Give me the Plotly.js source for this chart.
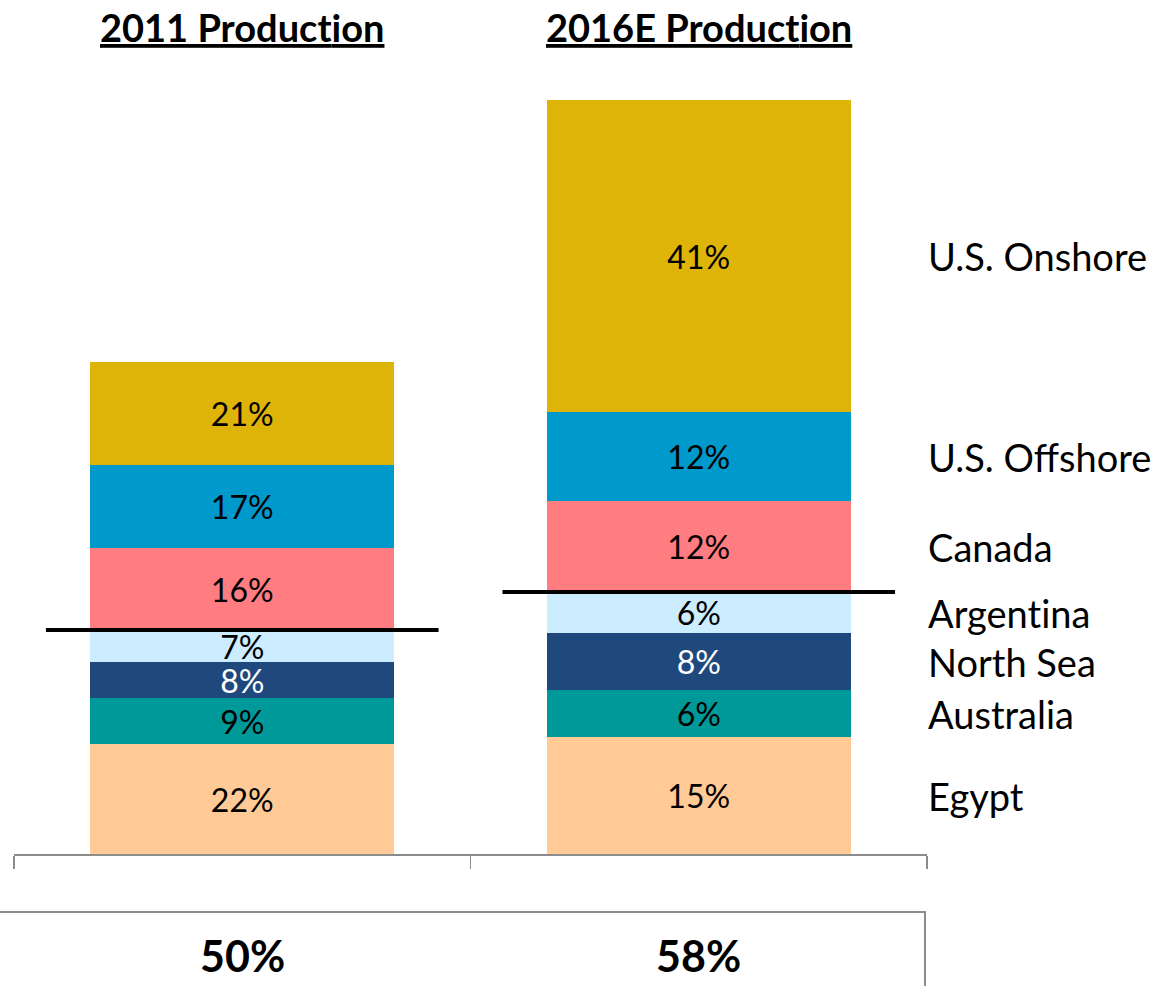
<!DOCTYPE html>
<html>
<head>
<meta charset="utf-8">
<script src="https://cdn.plot.ly/plotly-3.0.1.min.js"></script>
<style>html,body{margin:0;padding:0;background:#fff;}#chart{width:1158px;height:986px;}</style>
</head>
<body>
<div id="chart"></div>
<script>
// Categories (bars)
const periods = ["2011 Production", "2016E Production"];
// Regions, bottom to top
const regions = ["Egypt", "Australia", "North Sea", "Argentina", "Canada", "U.S. Offshore", "U.S. Onshore"];
const egypt      = [110, 117];
const australia  = [46, 47];
const northSea   = [36, 57];
const argentina  = [32, 41];
const canada     = [82, 91];
const usOffshore = [83, 89];
const usOnshore  = [103, 312];
// Share labels
const egyptPct      = ["22%", "15%"];
const australiaPct  = ["9%", "6%"];
const northSeaPct   = ["8%", "8%"];
const argentinaPct  = ["7%", "6%"];
const canadaPct     = ["16%", "12%"];
const usOffshorePct = ["17%", "12%"];
const usOnshorePct  = ["21%", "41%"];
// Table row values
const tableValues = ["50%", "58%"];

const colors = ["#FFCA96", "#009999", "#1F497D", "#CCECFF", "#FF7C80", "#0099CC", "#DFB408"];
const textColors = ["#000", "#000", "#fff", "#000", "#000", "#000", "#000"];
const series = [egypt, australia, northSea, argentina, canada, usOffshore, usOnshore];
const labels = [egyptPct, australiaPct, northSeaPct, argentinaPct, canadaPct, usOffshorePct, usOnshorePct];

const FONT = "Lato, 'Open Sans', sans-serif";
const noLig = s => s.replace(/ti/g, "t\u200Ci");
const xIdx = [0, 1];

const traces = series.map((vals, i) => ({
  type: "bar",
  x: xIdx,
  y: vals,
  name: regions[i],
  width: 0.666,
  marker: {color: colors[i], line: {width: 0}},
  text: labels[i],
  textposition: "inside",
  insidetextanchor: "middle",
  textangle: 0,
  constraintext: "none",
  textfont: {family: FONT, size: 32, color: textColors[i]},
  hoverinfo: "skip"
}));

// cumulative stacks
const cum = [[0, 0]];
series.forEach((vals, i) => cum.push([cum[i][0] + vals[0], cum[i][1] + vals[1]]));

const annotations = [];
// Region labels aligned to 2016E segment centers
regions.forEach((r, i) => {
  annotations.push({
    xref: "paper", yref: "y",
    x: 926 / 1158, y: (cum[i][1] + cum[i + 1][1]) / 2,
    text: noLig(r), showarrow: false, xanchor: "left", yanchor: "middle",
    font: {family: FONT, size: 38, color: "#000"}
  });
});
// Titles above bars
periods.forEach((p, i) => {
  annotations.push({
    xref: "x", yref: "paper",
    x: i, y: 1 - 27 / 986,
    text: "<b><u>" + noLig(p) + "</u></b>", showarrow: false, xanchor: "center", yanchor: "middle",
    font: {family: FONT, size: 38, color: "#000"}
  });
});
// Table values
tableValues.forEach((v, i) => {
  annotations.push({
    xref: "x", yref: "paper",
    x: i, y: 1 - 955 / 986,
    text: "<b>" + v + "</b>", showarrow: false, xanchor: "center", yanchor: "middle",
    font: {family: FONT, size: 43, color: "#000"}
  });
});

const shapes = [];
// Black threshold lines at top of Argentina segment
xIdx.forEach(i => {
  shapes.push({
    type: "line", xref: "x", yref: "y",
    x0: i - 0.43, x1: i + 0.43, y0: cum[4][i], y1: cum[4][i],
    line: {color: "#000", width: 4}
  });
});
// Table box lines
shapes.push({type: "line", xref: "paper", yref: "paper", x0: 0, x1: 926 / 1158, y0: 1 - 912 / 986, y1: 1 - 912 / 986, line: {color: "#8c8c8c", width: 2}});
shapes.push({type: "line", xref: "paper", yref: "paper", x0: 925 / 1158, x1: 925 / 1158, y0: 1 - 912 / 986, y1: 0, line: {color: "#8c8c8c", width: 2}});

const layout = {
  width: 1158, height: 986,
  margin: {l: 0, r: 0, t: 0, b: 0},
  paper_bgcolor: "#fff", plot_bgcolor: "#fff",
  barmode: "stack",
  showlegend: false,
  hovermode: false,
  xaxis: {
    domain: [14 / 1158, 927 / 1158],
    type: "linear",
    range: [-0.5, 1.5],
    showgrid: false, zeroline: false,
    showline: true, linecolor: "#8c8c8c", linewidth: 1.5,
    ticks: "outside", tickmode: "array", tickvals: [-0.5, 0.5, 1.5],
    ticklen: 13, tickcolor: "#8c8c8c", tickwidth: 1.5,
    showticklabels: false, fixedrange: true
  },
  yaxis: {
    domain: [132 / 986, 1],
    range: [0, 854],
    showgrid: false, zeroline: false, showline: false,
    showticklabels: false, ticks: "", fixedrange: true
  },
  annotations: annotations,
  shapes: shapes
};

Plotly.newPlot("chart", traces, layout, {displayModeBar: false, staticPlot: true});
</script>
</body>
</html>
